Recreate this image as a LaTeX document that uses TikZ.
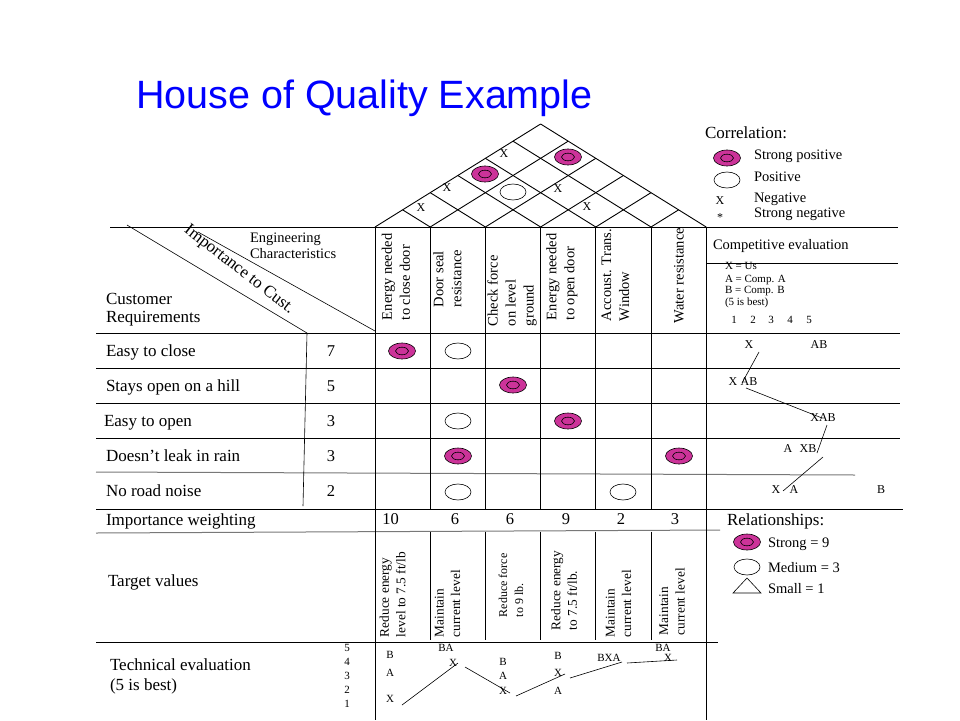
\documentclass[tikz,border=0pt]{standalone}
\usepackage{fontspec}
\setmainfont{Liberation Serif}
\newfontfamily\titlefont{Liberation Sans}
\definecolor{mag}{RGB}{204,51,153}
\definecolor{titleblue}{RGB}{0,0,255}
\definecolor{lgray}{RGB}{120,120,120}
\tikzset{
  every node/.style={inner sep=0pt, outer sep=0pt},
  gl/.style={line width=0.9pt, black},
  gg/.style={line width=1pt, lgray},
  tl/.style={line width=0.6pt, black},
  body/.style={anchor=base west, font=\fontsize{17}{19}\selectfont},
  bodyc/.style={anchor=base, font=\fontsize{16.5}{19}\selectfont},
  leg/.style={anchor=base west, font=\fontsize{14.5}{17}\selectfont},
  legbig/.style={anchor=base west, font=\fontsize{17}{20}\selectfont},
  tiny/.style={anchor=base west, font=\fontsize{11}{13}\selectfont},
  tinyc/.style={anchor=base, font=\fontsize{11}{13}\selectfont},
  letc/.style={anchor=base, font=\fontsize{12}{14}\selectfont},
  hdr/.style={rotate=90, anchor=west, align=left, font=\fontsize{14.5}{18}\selectfont},
  tgt/.style={rotate=90, anchor=west, align=left, font=\fontsize{13.3}{16.5}\selectfont},
  tgtsmall/.style={rotate=90, anchor=west, align=left, font=\fontsize{12}{16}\selectfont},
  strongm/.pic={\draw[line width=0.6pt, fill=mag] (0,0) ellipse [x radius=13.5pt, y radius=8pt];
                \draw[line width=0.6pt] (0,0) ellipse [x radius=6.5pt, y radius=3.8pt];},
  medm/.pic={\draw[line width=0.6pt, fill=white] (0,0) ellipse [x radius=13pt, y radius=8pt];},
}
\begin{document}
\begin{tikzpicture}[x=1pt, y=-1pt]
\fill[white] (0,0) rectangle (960,720);
\useasboundingbox (0,0) rectangle (960,720);

% Title
\node[anchor=base west, text=titleblue, font=\titlefont\fontsize{39.5}{44}\selectfont] (title) at (136,108) {House of Quality Example};

% Roof
\foreach \k in {0,...,5} {
  \draw[gl] ({375+55.2*\k},227) -- ({(375+55.2*\k+706.2)/2},{227-0.622*(706.2-375-55.2*\k)/2});
}
\foreach \k in {1,...,6} {
  \draw[gl] ({375+55.2*\k},227) -- ({(750+55.2*\k)/2},{227-0.622*(55.2*\k)/2});
}
\node[letc] (r1) at (421,211) {X};
\node[letc] (r2) at (447,191) {X};
\node[letc] (r3) at (504,157) {X};
\node[letc] (r4) at (558,192) {X};
\node[letc] (r5) at (587,210) {X};
\pic at (485,174) {strongm};
\pic at (568,157) {strongm};
\pic at (513,192) {medm};

% Horizontal lines
\draw[gl] (110,227) -- (898,227);
\draw[gl] (706.2,263) -- (898,263);
\draw[gl] (96,333) -- (900,333);
\draw[gl] (96,368) -- (900,368);
\draw[gl] (96,403) -- (900,403);
\draw[gl] (96,438) -- (900,438);
\draw[gg] (96,472) -- (855,475);
\draw[gl] (96,509) -- (903,509);
\draw[gg] (96,533) -- (720,530);
\draw[gl] (96,642) -- (718,642);

% Vertical lines
\draw[gl] (375,227) -- (375,720);
\draw[gl] (706.2,227) -- (706.2,720);
\foreach \k in {1,...,5} {
  \draw[gl] ({375+55.2*\k},227) -- ({375+55.2*\k},509);
  \draw[gl] ({375+55.2*\k},531.5) -- ({375+55.2*\k},640);
}

% Diagonals
\draw[tl] (127,225) -- (307,333) -- (303,506);
\draw[tl] (198,232) -- (375,331);

% Header texts
\node[font=\fontsize{14.5}{16}\selectfont, anchor=base west] (eng1) at (250,242) {Engineering};
\node[font=\fontsize{14.5}{16}\selectfont, anchor=base west] (eng2) at (250,258) {Characteristics};
\node[font=\fontsize{17}{19}\selectfont, rotate=-38] (imp) at (239,270) {Importance to Cust.};
\node[body] (cr1) at (106,304) {Customer};
\node[body] (cr2) at (106,322) {Requirements};

\node[hdr] (h1) at (396,320) {Energy needed\\to close door};
\node[hdr] (h2) at (447.5,307) {Door seal\\resistance};
\node[hdr] (h3) at (512,326) {Check force\\on level\\ground};
\node[hdr] (h4) at (562,320) {Energy needed\\to open door};
\node[hdr] (h5) at (615.5,321) {Accoust. Trans.\\Window};
\node[hdr] (h6) at (679,323) {Water resistance};

% Customer requirements
\node[body] (c1) at (106,356) {Easy to close};
\node[body] (c2) at (106,391) {Stays open on a hill};
\node[body] (c3) at (104,426) {Easy to open};
\node[body] (c4) at (106,461) {Doesn’t leak in rain};
\node[body] (c5) at (106,496) {No road noise};
\node[bodyc] (i1) at (331,356) {7};
\node[bodyc] (i2) at (331,391) {5};
\node[bodyc] (i3) at (331,426) {3};
\node[bodyc] (i4) at (331,461) {3};
\node[bodyc] (i5) at (331,496) {2};

% Relationship marks
\pic at (402,351) {strongm};
\pic at (458,351) {medm};
\pic at (513,385) {strongm};
\pic at (458,421) {medm};
\pic at (568,421) {strongm};
\pic at (458,456) {strongm};
\pic at (679,456) {strongm};
\pic at (458,492) {medm};
\pic at (623,492) {medm};

% Importance weighting
\node[body] (iw) at (106,525) {Importance weighting};
\node[bodyc] (w1) at (390.5,524) {10};
\node[bodyc] (w2) at (455,524) {6};
\node[bodyc] (w3) at (510,524) {6};
\node[bodyc] (w4) at (566,524) {9};
\node[bodyc] (w5) at (621,524) {2};
\node[bodyc] (w6) at (675,524) {3};

% Target values
\node[body] (tv) at (108,586) {Target values};
\node[tgt] (t1) at (392.5,637) {Reduce energy\\level to 7.5 ft/lb};
\node[tgt] (t2) at (447.5,637) {Maintain\\current level};
\node[tgtsmall] (t3) at (511,617) {Reduce force\\to 9 lb.};
\node[tgt] (t4) at (564,630) {Reduce energy\\to 7.5 ft/lb.};
\node[tgt] (t5) at (618.5,637) {Maintain\\current level};
\node[tgt] (t6) at (672,635) {Maintain\\current level};

% Technical evaluation
\node[body] (te1) at (110,670) {Technical evaluation};
\node[body] (te2) at (110,690) {(5 is best)};
\node[tinyc] (s5) at (347,651) {5};
\node[tinyc] (s4) at (347,665) {4};
\node[tinyc] (s3) at (347,679) {3};
\node[tinyc] (s2) at (347,693) {2};
\node[tinyc] (s1) at (347,707) {1};
\node[tinyc] (a1) at (390,658) {B};
\node[tinyc] (a2) at (390,676) {A};
\node[tinyc] (a3) at (390,702) {X};
\node[tinyc] (b1) at (446,651) {BA};
\node[tinyc] (b2) at (453,666) {X};
\node[tinyc] (d1) at (503,665) {B};
\node[tinyc] (d2) at (503,679) {A};
\node[tinyc] (d3) at (503,694) {X};
\node[tinyc] (e1) at (558,659) {B};
\node[tinyc] (e2) at (558,676) {X};
\node[tinyc] (e3) at (558,694) {A};
\node[tinyc] (f1) at (609,661) {BXA};
\node[tinyc] (g1) at (663,651) {BA};
\node[tinyc] (g2) at (668,661) {X};
\draw[tl] (402,705) -- (458,663);
\draw[tl] (465,667) -- (510,693);
\draw[tl] (516,696) -- (565,674);
\draw[tl] (570,678) -- (622,662);
\draw[tl] (627,663) -- (677,660);

% Correlation legend
\node[legbig] (corr) at (705,138) {Correlation:};
\pic at (727,158) {strongm};
\pic at (727,180) {medm};
\node[leg] (l1) at (754,159) {Strong positive};
\node[leg] (l2) at (754,181) {Positive};
\node[leg] (l3) at (754,202) {Negative};
\node[leg] (l4) at (754,217) {Strong negative};
\node[letc] (lx) at (720,204) {X};
\node[letc] (ls) at (720,221) {*};

% Competitive evaluation
\node[leg] (ce) at (713,249) {Competitive evaluation};
\node[tiny] (k1) at (725,269) {X = Us};
\node[tiny] (k2) at (725,282) {A = Comp. A};
\node[tiny] (k3) at (725,293) {B = Comp. B};
\node[tiny] (k4) at (725,305) {(5 is best)};
\node[tinyc] (n1) at (734,323) {1};
\node[tinyc] (n2) at (753,323) {2};
\node[tinyc] (n3) at (771,323) {3};
\node[tinyc] (n4) at (790,323) {4};
\node[tinyc] (n5) at (809,323) {5};
\node[letc] (q1x) at (749,348) {X};
\node[letc] (q1ab) at (819,348) {AB};
\node[letc] (q2x) at (733,385) {X};
\node[letc] (q2ab) at (749,385) {AB};
\node[letc] (q3) at (823,421) {XAB};
\node[letc] (q4a) at (788,452) {A};
\node[letc] (q4xb) at (808,452) {XB};
\node[letc] (q5x) at (776,493) {X};
\node[letc] (q5a) at (794,493) {A};
\node[letc] (q5b) at (881,493) {B};
\draw[tl] (759,352) -- (742,383);
\draw[tl] (746,388) -- (822,418);
\draw[tl] (827,425) -- (817,453);
\draw[tl] (823,457) -- (783,491);

% Relationships legend
\node[legbig] (rel) at (727,525) {Relationships:};
\pic at (747,542) {strongm};
\pic at (747,567) {medm};
\draw[tl] (733,593) -- (747,578) -- (761,593) -- cycle;
\node[leg] (rl1) at (768,547) {Strong = 9};
\node[leg] (rl2) at (768,572) {Medium = 3};
\node[leg] (rl3) at (768,593) {Small = 1};
\end{tikzpicture}
\end{document}
